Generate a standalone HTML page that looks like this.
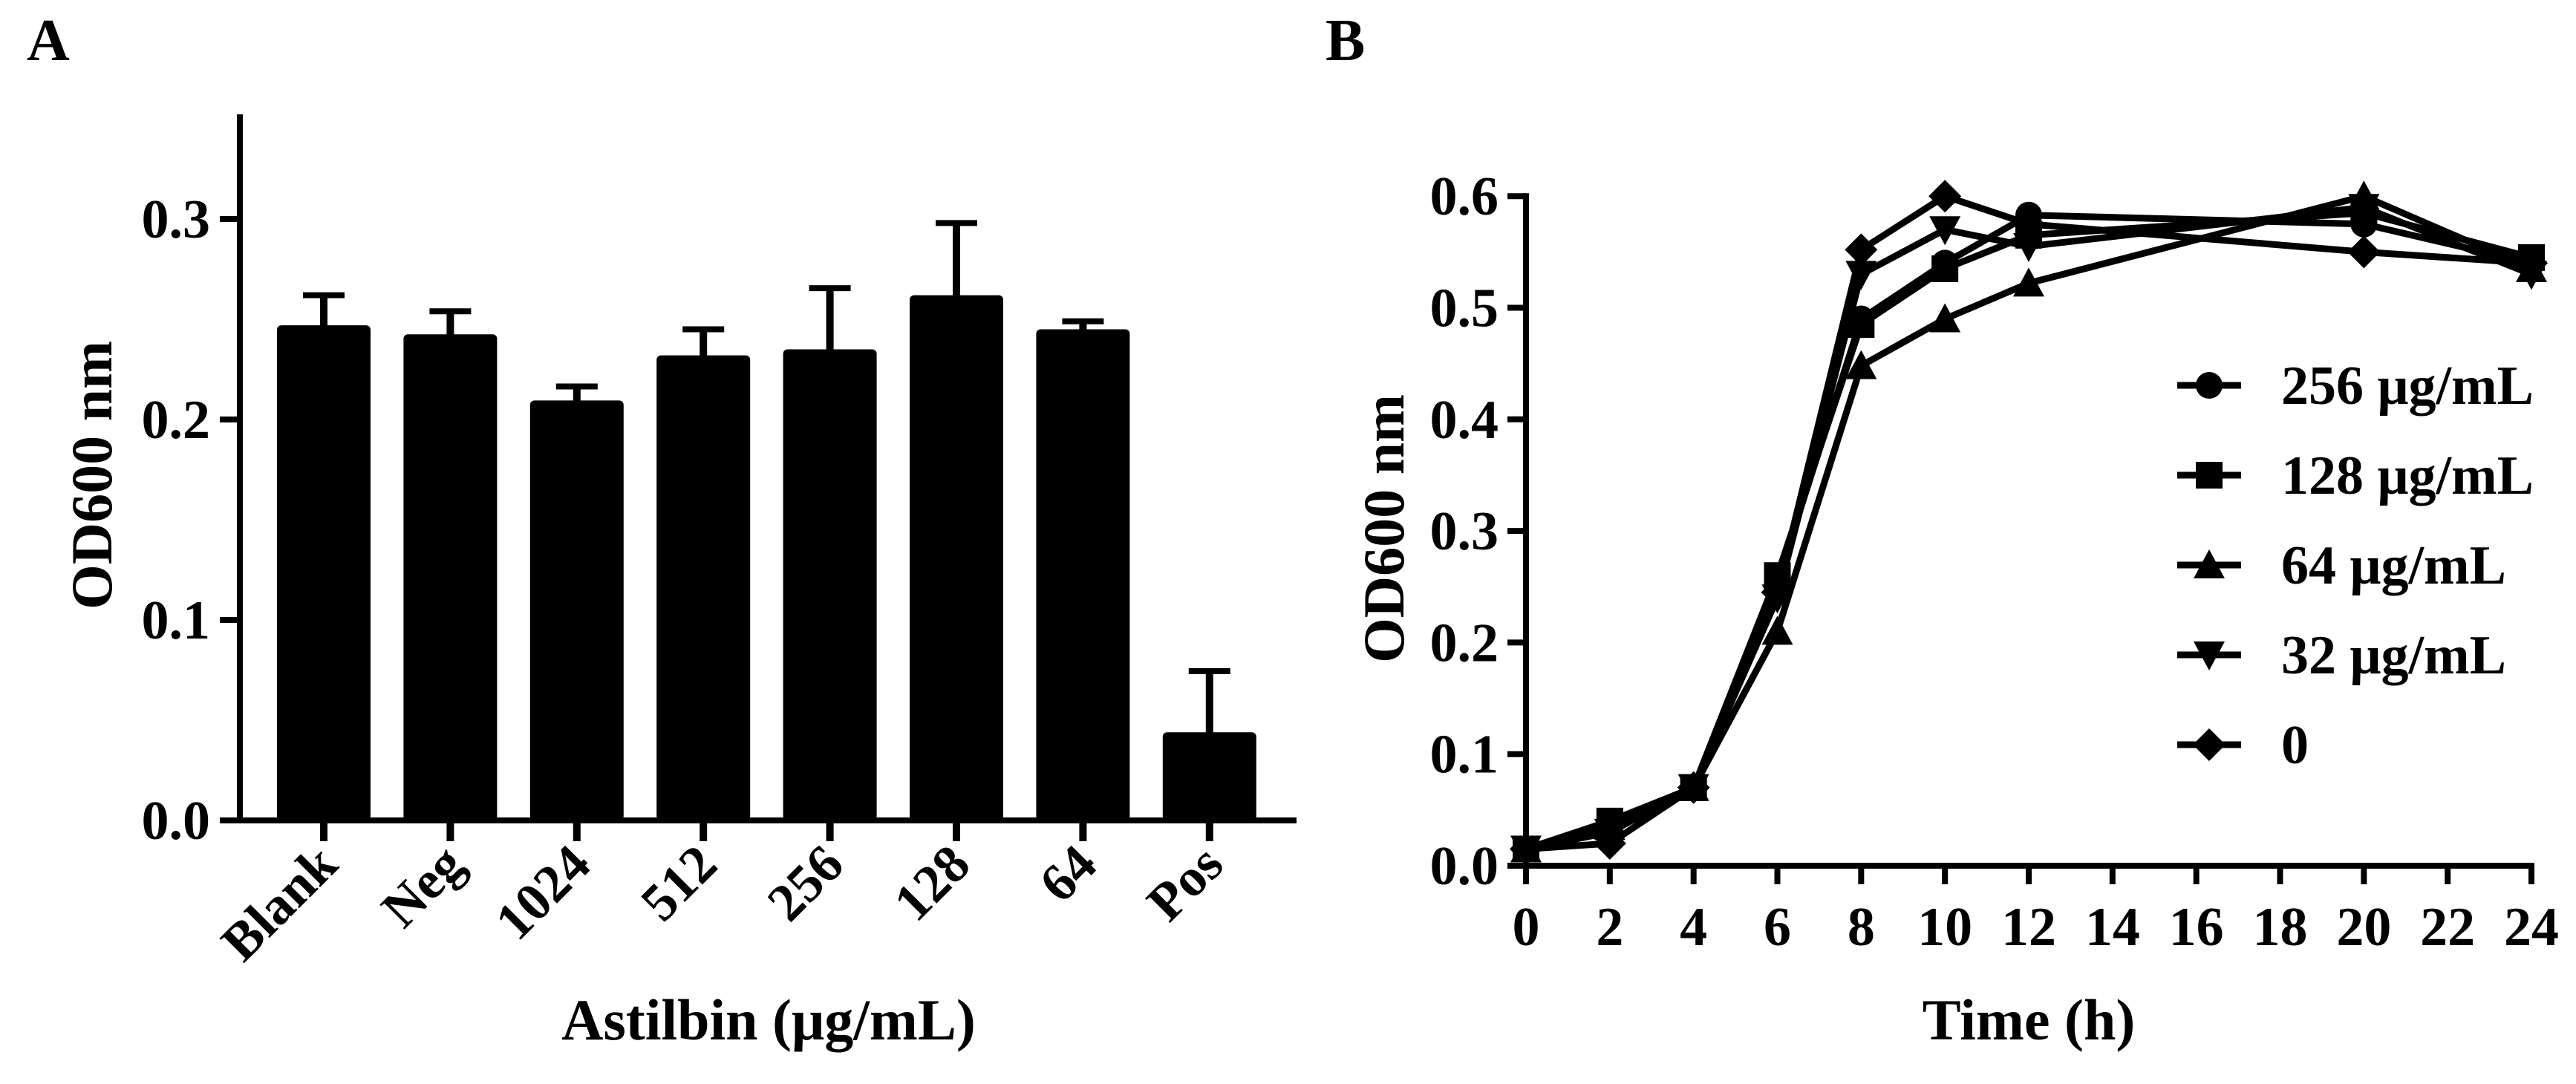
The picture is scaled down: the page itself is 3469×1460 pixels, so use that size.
<!DOCTYPE html>
<html><head><meta charset="utf-8">
<style>
html,body{margin:0;padding:0;background:#fff;}
svg{display:block;}
text{font-family:"Liberation Serif",serif;font-weight:bold;fill:#000;}
</style></head>
<body>
<svg id="fig" width="3469" height="1460" viewBox="0 0 3469 1460" xmlns="http://www.w3.org/2000/svg">
<rect width="3469" height="1460" fill="#fff"/>
<text x="36" y="81" font-size="80">A</text>
<text x="1785" y="81" font-size="80">B</text>
<g id="pa"></g>
<g id="pb"></g>
</svg>
<script>
// Panel A data
const catsA = ["Blank","Neg","1024","512","256","128","64","Pos"];
const meansA = [0.247,0.2425,0.2095,0.232,0.235,0.262,0.245,0.044];
const errTopA = [0.262,0.254,0.2165,0.245,0.2655,0.298,0.249,0.0745];
const ticksA = [0.0,0.1,0.2,0.3];
const tickLabelsA = ["0.0","0.1","0.2","0.3"];
// Panel B data
const timesB = [0,2,4,6,8,10,12,20,24];
const xTicksB = [0,2,4,6,8,10,12,14,16,18,20,22,24];
const yTicksB = [0,0.1,0.2,0.3,0.4,0.5,0.6];
const yTickLabelsB = ["0.0","0.1","0.2","0.3","0.4","0.5","0.6"];
const seriesNames = ["256 \u03bcg/mL","128 \u03bcg/mL","64 \u03bcg/mL","32 \u03bcg/mL","0"];
const seriesMarkers = ["circle","square","up","down","diamond"];
const s256 = [0.015,0.035,0.07,0.255,0.49,0.54,0.583,0.575,0.54];
const s128 = [0.015,0.04,0.07,0.26,0.485,0.535,0.565,0.585,0.545];
const s64 = [0.015,0.035,0.07,0.21,0.448,0.49,0.522,0.60,0.535];
const s32 = [0.015,0.03,0.07,0.24,0.53,0.57,0.555,0.59,0.53];
const s0 = [0.015,0.02,0.07,0.245,0.552,0.60,0.575,0.55,0.54];
const seriesB = [s256,s128,s64,s32,s0];

const NS="http://www.w3.org/2000/svg";
function mk(tag,attrs,parent){const e=document.createElementNS(NS,tag);for(const k in attrs)e.setAttribute(k,attrs[k]);parent.appendChild(e);return e;}

// ---------- Panel A ----------
const pa=document.getElementById('pa');
const A={x0:323,y0:1105,yTop:154,xEnd:1746,c0:436,step:170.4,bw:126};
const yA=v=>A.y0-v*2700;
const xA=i=>A.c0+i*A.step;
catsA.forEach((c,i)=>{
  const cx=xA(i), top=yA(meansA[i]), et=yA(errTopA[i]);
  const eb=mk('line',{x1:cx,x2:cx,y1:top+2,y2:et,stroke:'#000','stroke-width':10},pa);
  
  
  const cap=mk('line',{x1:cx-28,x2:cx+28,y1:et,y2:et,stroke:'#000','stroke-width':8},pa);
  
  
  const b=mk('rect',{x:cx-A.bw/2,y:top,width:A.bw,height:A.y0-top,rx:6,fill:'#000'},pa);
  
  
  const t=mk('line',{x1:cx,x2:cx,y1:A.y0,y2:1133,stroke:'#000','stroke-width':10},pa);
  
  
  const lb=mk('text',{x:0,y:0,'font-size':72,'text-anchor':'end',transform:`translate(${cx+22},${1168}) rotate(-45)`},pa);
  lb.textContent=c;
  
  
});
const ayA=mk('line',{x1:A.x0,x2:A.x0,y1:A.yTop,y2:A.y0+4,stroke:'#000','stroke-width':8},pa);


const axA=mk('line',{x1:A.x0-4,x2:A.xEnd,y1:A.y0,y2:A.y0,stroke:'#000','stroke-width':8},pa);


ticksA.forEach((v,i)=>{
  const y=yA(v);
  const t=mk('line',{x1:296,x2:A.x0,y1:y,y2:y,stroke:'#000','stroke-width':8},pa);
  
  
  const l=mk('text',{x:283,y:y+25,'font-size':74,'text-anchor':'end'},pa);
  l.textContent=tickLabelsA[i];
  
  
});
const ytA=mk('text',{x:0,y:0,'font-size':78,'text-anchor':'middle',transform:'translate(150,640) rotate(-90)'},pa);
ytA.textContent='OD600 nm';


const xtA=mk('text',{x:1035,y:1400,'font-size':78,'text-anchor':'middle'},pa);
xtA.textContent='Astilbin (\u03bcg/mL)';



// ---------- Panel B ----------
const pb=document.getElementById('pb');
const B={x0:2055,y0:1166,xEnd:3411};
const xB=t=>B.x0+t*(3409-2055)/24;
const yB=v=>B.y0-v*1503;
function marker(type,cx,cy,parent){
  const r=18;
  if(type==='circle') return mk('circle',{cx:cx,cy:cy,r:r,fill:'#000'},parent);
  if(type==='square') return mk('rect',{x:cx-r,y:cy-r,width:2*r,height:2*r,fill:'#000'},parent);
  if(type==='up') return mk('polygon',{points:`${cx},${cy-r-3} ${cx+r+3},${cy+r} ${cx-r-3},${cy+r}`,fill:'#000'},parent);
  if(type==='down') return mk('polygon',{points:`${cx},${cy+r+3} ${cx+r+3},${cy-r} ${cx-r-3},${cy-r}`,fill:'#000'},parent);
  return mk('polygon',{points:`${cx},${cy-r-4} ${cx+r+4},${cy} ${cx},${cy+r+4} ${cx-r-4},${cy}`,fill:'#000'},parent);
}
seriesB.forEach((s,k)=>{
  const g=mk('g',{},pb);
  
  
  const pts=s.map((v,i)=>xB(timesB[i])+','+yB(v)).join(' ');
  const pl=mk('polyline',{points:pts,fill:'none',stroke:'#000','stroke-width':9,'stroke-linejoin':'miter'},g);
  
  
  s.forEach((v,i)=>{
    const m=marker(seriesMarkers[k],xB(timesB[i]),yB(v),g);
    
    
  });
});
const ayB=mk('line',{x1:B.x0,x2:B.x0,y1:yB(0.6)-4,y2:B.y0+4,stroke:'#000','stroke-width':8},pb);


const axB=mk('line',{x1:B.x0-4,x2:B.xEnd+2,y1:B.y0,y2:B.y0,stroke:'#000','stroke-width':8},pb);


xTicksB.forEach(t=>{
  const x=Math.min(xB(t),3409);
  const tk=mk('line',{x1:x,x2:x,y1:B.y0,y2:1191,stroke:'#000','stroke-width':8},pb);
  
  
  const l=mk('text',{x:x,y:1273,'font-size':74,'text-anchor':'middle'},pb);
  l.textContent=String(t);
  
  
});
yTicksB.forEach((v,i)=>{
  const y=yB(v);
  const tk=mk('line',{x1:2030,x2:B.x0,y1:y,y2:y,stroke:'#000','stroke-width':8},pb);
  
  
  const l=mk('text',{x:2018,y:y+25,'font-size':74,'text-anchor':'end'},pb);
  l.textContent=yTickLabelsB[i];
  
  
});
const ytB=mk('text',{x:0,y:0,'font-size':78,'text-anchor':'middle',transform:'translate(1890,712) rotate(-90)'},pb);
ytB.textContent='OD600 nm';


const xtB=mk('text',{x:2732,y:1400,'font-size':78,'text-anchor':'middle'},pb);
xtB.textContent='Time (h)';


// legend
const lg=mk('g',{},pb);


seriesNames.forEach((n,k)=>{
  const y=519+k*121;
  const e=mk('g',{},lg);
  
  
  mk('line',{x1:2932,x2:3018,y1:y,y2:y,stroke:'#000','stroke-width':9},e);
  marker(seriesMarkers[k],2975,y,e);
  const t=mk('text',{x:3072,y:y+25,'font-size':74},e);
  t.textContent=n;
  
  
});
</script>
</body></html>
